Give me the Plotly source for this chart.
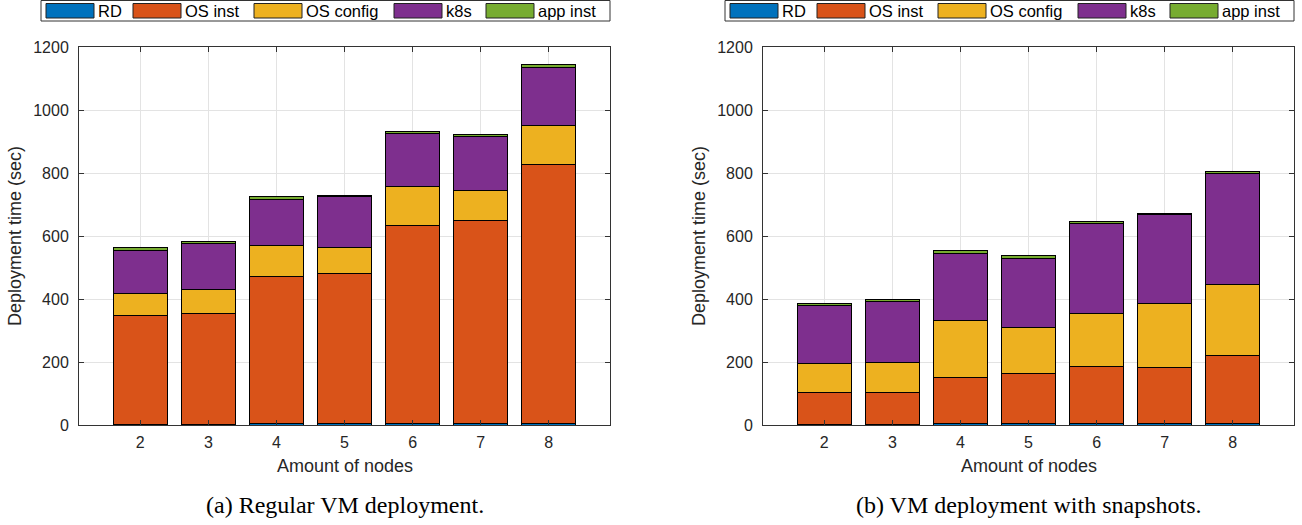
import plotly.graph_objects as go

# ---------------- data ----------------
nodes = [2, 3, 4, 5, 6, 7, 8]
series_names = ["RD", "OS inst", "OS config", "k8s", "app inst"]
series_colors = ["#0072BD", "#D95319", "#EDB120", "#7E2F8E", "#77AC30"]

regular_rd = [3, 3, 4, 5, 5, 6, 6]
regular_os_inst = [346, 352, 466, 476, 628, 642, 821]
regular_os_config = [67, 75, 101, 84, 124, 98, 124]
regular_k8s = [139, 145, 146, 159, 170, 171, 185]
regular_app_inst = [7, 6, 7, 6, 6, 6, 7]

snap_rd = [3, 3, 4, 4, 5, 5, 6]
snap_os_inst = [99, 100, 147, 160, 180, 176, 215]
snap_os_config = [93, 95, 180, 146, 170, 205, 224]
snap_k8s = [184, 194, 215, 219, 285, 281, 355]
snap_app_inst = [7, 5, 7, 8, 7, 6, 6]

y_ticks = [0, 200, 400, 600, 800, 1000, 1200]
x_title = "Amount of nodes"
y_title = "Deployment time (sec)"
captions = ["(a) Regular VM deployment.", "(b) VM deployment with snapshots."]

# ---------------- figure ----------------
W, H = 1302, 525
SANS = "Liberation Sans, Arial, Helvetica, sans-serif"
SERIF = "Liberation Serif, Times New Roman, serif"


def px(x):
    return x / W


def py(y):
    return 1 - y / H


fig = go.Figure()

panels = [
    ([regular_rd, regular_os_inst, regular_os_config, regular_k8s, regular_app_inst], "x", "y", 0),
    ([snap_rd, snap_os_inst, snap_os_config, snap_k8s, snap_app_inst], "x2", "y2", 684),
]

for series, xa, ya, off in panels:
    for name, color, vals in zip(series_names, series_colors, series):
        fig.add_trace(go.Bar(
            x=nodes, y=vals, name=name, xaxis=xa, yaxis=ya,
            marker=dict(color=color, line=dict(color="black", width=1)),
            width=0.8, showlegend=False, hoverinfo="skip",
        ))

axis_common = dict(
    showline=True, linecolor="#333333", linewidth=1, mirror="ticks",
    ticks="inside", ticklen=5, tickcolor="#333333", tickwidth=1,
    showgrid=True, gridcolor="#e3e3e3", gridwidth=1, zeroline=False,
    automargin=False,
    tickfont=dict(family=SANS, size=16, color="#262626"),
)

plot_l, plot_r, plot_t, plot_b = 79, 610, 47, 425

layout = dict(
    width=W, height=H, barmode="stack", bargap=0.2,
    margin=dict(l=0, r=0, t=0, b=0, pad=0),
    paper_bgcolor="white", plot_bgcolor="white",
    font=dict(family=SANS),
)
for i, (series, xa, ya, off) in enumerate(panels):
    suffix = "" if i == 0 else "2"
    layout["xaxis" + suffix] = dict(
        axis_common, domain=[px(plot_l + off), px(plot_r + off)], range=[1.1, 8.9],
        tickvals=nodes, anchor="y" + suffix, ticklabelstandoff=3,
    )
    layout["yaxis" + suffix] = dict(
        axis_common, domain=[py(plot_b), py(plot_t)], range=[0, 1200],
        tickvals=y_ticks, anchor="x" + suffix, ticklabelstandoff=6,
    )
fig.update_layout(**layout)

shapes = []
annotations = []
sw_offsets = [5, 92, 213, 353, 445]
for i, (series, xa, ya, off) in enumerate(panels):
    L = 41 + off
    # legend box
    shapes.append(dict(type="rect", xref="paper", yref="paper",
                       x0=px(L), x1=px(L + 569), y0=py(21), y1=py(0.5),
                       line=dict(color="#333333", width=1), fillcolor="white"))
    for name, color, so in zip(series_names, series_colors, sw_offsets):
        shapes.append(dict(type="rect", xref="paper", yref="paper",
                           x0=px(L + so), x1=px(L + so + 48), y0=py(18), y1=py(3.5),
                           line=dict(color="#222222", width=1), fillcolor=color))
        annotations.append(dict(text=name, xref="paper", yref="paper",
                                x=px(L + so + 50), y=py(11), xanchor="left", yanchor="middle",
                                showarrow=False, font=dict(family=SANS, size=16.5, color="black")))
    # axis titles
    annotations.append(dict(text=x_title, xref="paper", yref="paper",
                            x=px((plot_l + plot_r) / 2 + off), y=py(466),
                            xanchor="center", yanchor="middle", showarrow=False,
                            font=dict(family=SANS, size=18, color="#262626")))
    annotations.append(dict(text=y_title, xref="paper", yref="paper",
                            x=px(15 + off), y=py((plot_t + plot_b) / 2),
                            xanchor="center", yanchor="middle", textangle=-90, showarrow=False,
                            font=dict(family=SANS, size=18, color="#262626")))
    annotations.append(dict(text=captions[i], xref="paper", yref="paper",
                            x=px((plot_l + plot_r) / 2 + off), y=py(505),
                            xanchor="center", yanchor="middle", showarrow=False,
                            font=dict(family=SERIF, size=24, color="black")))

fig.update_layout(shapes=shapes, annotations=annotations)
fig.write_html("out.html", config={"displayModeBar": False},
               post_script="document.body.style.margin='0';document.body.style.overflow='hidden';")
